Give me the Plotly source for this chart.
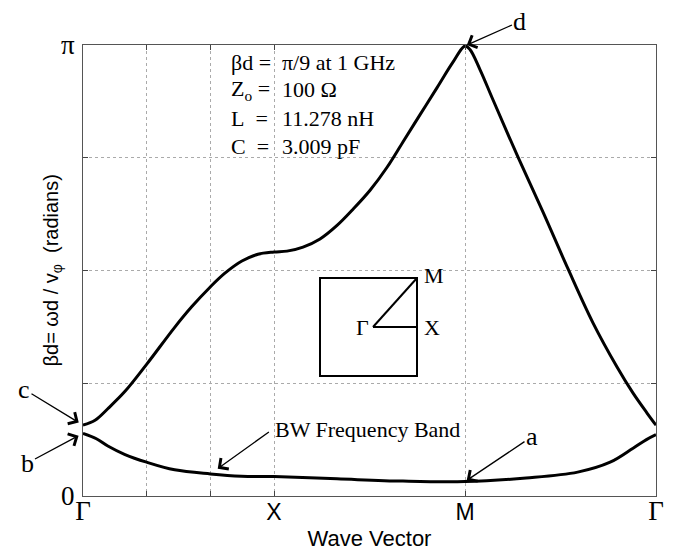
import numpy as np
import plotly.graph_objects as go

PI = np.pi

# Wave-vector path positions (Γ=0, X=1, M=2, Γ=3)
x_upper = [0, 0.063, 0.131, 0.22, 0.335, 0.48, 0.57, 0.665, 0.743, 0.832, 0.916, 1.0,
           1.068, 1.152, 1.241, 1.33, 1.414, 1.503, 1.592, 1.675, 1.764, 1.853, 1.937,
           2.0, 2.026, 2.079, 2.147, 2.277, 2.408, 2.539, 2.67, 2.796, 2.88, 2.953, 3.0]
# βd in units of π
y_upper = [0.157, 0.168, 0.194, 0.232, 0.293, 0.374, 0.42, 0.463, 0.494, 0.521, 0.536,
           0.541, 0.543, 0.552, 0.570, 0.600, 0.636, 0.678, 0.729, 0.785, 0.845, 0.905,
           0.962, 0.998, 0.99, 0.945, 0.878, 0.752, 0.63, 0.504, 0.384, 0.286, 0.228,
           0.184, 0.157]

x_lower = [0, 0.07, 0.13, 0.22, 0.333, 0.48, 0.667, 0.83, 1.0, 1.33, 1.675, 2.0, 2.32,
           2.59, 2.76, 2.88, 2.95, 3.0]
y_lower = [0.139, 0.127, 0.111, 0.092, 0.075, 0.058, 0.049, 0.044, 0.043, 0.038, 0.033,
           0.032, 0.040, 0.053, 0.075, 0.106, 0.125, 0.136]

x_tickvals = [0, 1/3, 2/3, 1, 2, 3]
x_ticktext = ["Γ", "", "",
              "<span style='font-family:Liberation Sans;font-size:23px'>X</span>",
              "<span style='font-family:Liberation Sans;font-size:23px'>M</span>",
              "Γ"]
y_tickvals = [0, PI / 4, PI / 2, 3 * PI / 4, PI]
y_ticktext = ["0", "", "", "", "π"]

params_left = ["βd =", "Z<sub>o</sub> =", "L\u00a0\u00a0=", "C\u00a0\u00a0="]
params_right = ["π/9 at 1 GHz", "100 Ω", "11.278 nH", "3.009 pF"]

fig = go.Figure()
fig.add_trace(go.Scatter(x=x_upper, y=[v * PI for v in y_upper], mode="lines",
                         line=dict(color="black", width=3, shape="spline", smoothing=1.0),
                         showlegend=False, hoverinfo="skip"))
fig.add_trace(go.Scatter(x=x_lower, y=[v * PI for v in y_lower], mode="lines",
                         line=dict(color="black", width=3, shape="spline", smoothing=1.0),
                         showlegend=False, hoverinfo="skip"))

serif = "Liberation Serif"
sans = "Liberation Sans"

fig.update_xaxes(range=[0, 3], tickvals=x_tickvals, ticktext=x_ticktext, automargin=False,
                 ticks="inside", ticklen=5, tickcolor="#444",
                 showline=True, linecolor="#555", linewidth=1, mirror="ticks",
                 showgrid=True, gridcolor="#aaa", griddash="dot", gridwidth=1,
                 zeroline=False, tickfont=dict(family=serif, size=27, color="black"),
                 ticklabelstandoff=-9,
                 title=dict(text="Wave Vector", font=dict(family=sans, size=22, color="black"),
                            standoff=12))
fig.update_yaxes(range=[0, PI], tickvals=y_tickvals, ticktext=y_ticktext, automargin=False,
                 ticks="inside", ticklen=5, tickcolor="#444",
                 showline=True, linecolor="#555", linewidth=1, mirror="ticks",
                 showgrid=True, gridcolor="#aaa", griddash="dot", gridwidth=1,
                 zeroline=False, tickfont=dict(family=serif, size=27, color="black"),
                 ticklabelstandoff=2)

ann = []
# y-axis title
ann.append(dict(xref="paper", yref="paper", x=(52 - 83) / 573, y=0.5, textangle=-90,
                xanchor="center", yanchor="middle", showarrow=False,
                text="βd= ωd / v<sub>φ</sub>\u00a0\u00a0(radians)",
                font=dict(family=sans, size=20, color="black")))
afont = dict(family=serif, size=26, color="black")
arrow = dict(showarrow=True, arrowhead=4, arrowsize=2.0, arrowwidth=1.3, arrowcolor="black")
# d, a, c, b arrows
ann.append(dict(x=x_upper[23], y=y_upper[23] * PI, text="d", ax=54, ay=-24, font=afont,
                standoff=2, borderpad=0, **arrow))
ann.append(dict(x=x_lower[11], y=y_lower[11] * PI, text="a", ax=67, ay=-45, font=afont,
                standoff=2, **arrow))
ann.append(dict(x=x_upper[0], y=y_upper[0] * PI, text="c", ax=-59, ay=-36, font=afont,
                standoff=5, **arrow))
ann.append(dict(x=x_lower[0], y=y_lower[0] * PI, text="b", ax=-56, ay=30, font=afont,
                standoff=5, **arrow))
# BW band
ann.append(dict(x=x_lower[6], y=y_lower[6] * PI, text="", ax=60, ay=-43, standoff=9, **arrow))
ann.append(dict(xref="paper", yref="paper", x=(273 - 83) / 573, y=(496 - 429) / 451,
                xanchor="left", yanchor="middle", text="BW Frequency Band",
                font=dict(family=serif, size=22, color="black"), showarrow=False))
# parameter block
for i, (l, r) in enumerate(zip(params_left, params_right)):
    yy = (496 - (62 + 28 * i)) / 451
    ann.append(dict(xref="paper", yref="paper", x=(229 - 83) / 573, y=yy, xanchor="left",
                    yanchor="middle", text=l, showarrow=False,
                    font=dict(family=serif, size=22, color="black")))
    ann.append(dict(xref="paper", yref="paper", x=(280 - 83) / 573, y=yy, xanchor="left",
                    yanchor="middle", text=r, showarrow=False,
                    font=dict(family=serif, size=22, color="black")))

# Brillouin-zone inset
sq = dict(x0=(320 - 83) / 573, x1=(417 - 83) / 573, y0=(496 - 376) / 451, y1=(496 - 278) / 451)
gx, gy = (373 - 83) / 573, (496 - 327) / 451
shapes = [
    dict(type="rect", xref="paper", yref="paper", **sq, line=dict(color="black", width=2)),
    dict(type="line", xref="paper", yref="paper", x0=gx, y0=gy, x1=sq["x1"], y1=sq["y1"],
         line=dict(color="black", width=2)),
    dict(type="line", xref="paper", yref="paper", x0=gx, y0=gy, x1=sq["x1"], y1=gy,
         line=dict(color="black", width=2)),
]
ifont = dict(family=serif, size=22, color="black")
ann.append(dict(xref="paper", yref="paper", x=sq["x1"] + 0.008, y=sq["y1"] + 0.005, text="M",
                xanchor="left", yanchor="middle", showarrow=False, font=ifont))
ann.append(dict(xref="paper", yref="paper", x=sq["x1"] + 0.008, y=gy, text="X",
                xanchor="left", yanchor="middle", showarrow=False, font=ifont))
ann.append(dict(xref="paper", yref="paper", x=gx - 0.004, y=gy, text="Γ",
                xanchor="right", yanchor="middle", showarrow=False, font=ifont))

# page body has an 8px margin: shrink the figure so the plot area lands at 83..656 x 45..496
fig.update_layout(width=678, height=543, margin=dict(l=75, r=30, t=37, b=55),
                  plot_bgcolor="white", paper_bgcolor="white",
                  annotations=ann, shapes=shapes)

fig.write_html("out.html")
